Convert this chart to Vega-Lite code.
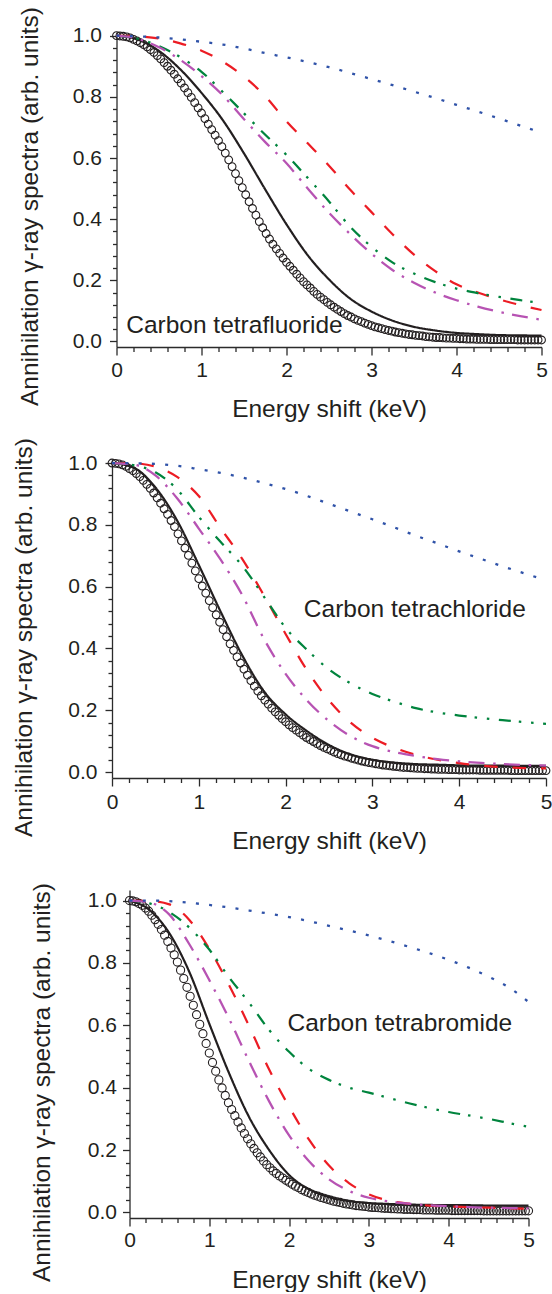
{
  "$schema": "https://vega.github.io/schema/vega-lite/v6.json",
  "padding": {"left": 10, "top": 6, "right": 0, "bottom": 0},
  "config": {
    "view": {"stroke": null},
    "font": "Liberation Sans",
    "axis": {
      "grid": false,
      "domainColor": "#2b2b2b",
      "domainWidth": 1.3,
      "tickColor": "#2b2b2b",
      "tickWidth": 1.3,
      "labelFont": "Liberation Sans",
      "labelFontSize": 21,
      "labelColor": "#231f20",
      "labelOverlap": false,
      "labelFlush": false,
      "labelBound": false,
      "titleFont": "Liberation Sans",
      "titleFontSize": 24.5,
      "titleFontWeight": "normal",
      "titleColor": "#231f20"
    }
  },
  "datasets": {
    "labels": [
      {"panel": "CF4", "text": "Carbon tetrafluoride", "x": 0.114, "y": 0.029},
      {"panel": "CCl4", "text": "Carbon tetrachloride", "x": 2.21, "y": 0.501},
      {"panel": "CBr4", "text": "Carbon tetrabromide", "x": 1.98, "y": 0.581}
    ],
    "lines": [
      {"panel":"CF4","curve":"black","x":0,"y":1.0},{"panel":"CF4","curve":"black","x":0.25,"y":0.987},{"panel":"CF4","curve":"black","x":0.5,"y":0.950},{"panel":"CF4","curve":"black","x":0.75,"y":0.890},{"panel":"CF4","curve":"black","x":1.0,"y":0.813},{"panel":"CF4","curve":"black","x":1.25,"y":0.724},{"panel":"CF4","curve":"black","x":1.5,"y":0.615},{"panel":"CF4","curve":"black","x":1.75,"y":0.497},{"panel":"CF4","curve":"black","x":2.0,"y":0.383},{"panel":"CF4","curve":"black","x":2.25,"y":0.282},{"panel":"CF4","curve":"black","x":2.5,"y":0.203},{"panel":"CF4","curve":"black","x":2.75,"y":0.140},{"panel":"CF4","curve":"black","x":3.0,"y":0.098},{"panel":"CF4","curve":"black","x":3.25,"y":0.068},{"panel":"CF4","curve":"black","x":3.5,"y":0.048},{"panel":"CF4","curve":"black","x":3.75,"y":0.036},{"panel":"CF4","curve":"black","x":4.0,"y":0.028},{"panel":"CF4","curve":"black","x":4.25,"y":0.024},{"panel":"CF4","curve":"black","x":4.5,"y":0.021},{"panel":"CF4","curve":"black","x":4.75,"y":0.020},{"panel":"CF4","curve":"black","x":5.0,"y":0.019},
      {"panel":"CF4","curve":"red","x":0,"y":1.0},{"panel":"CF4","curve":"red","x":0.25,"y":0.998},{"panel":"CF4","curve":"red","x":0.5,"y":0.991},{"panel":"CF4","curve":"red","x":0.75,"y":0.975},{"panel":"CF4","curve":"red","x":1.0,"y":0.951},{"panel":"CF4","curve":"red","x":1.25,"y":0.915},{"panel":"CF4","curve":"red","x":1.5,"y":0.866},{"panel":"CF4","curve":"red","x":1.75,"y":0.802},{"panel":"CF4","curve":"red","x":2.0,"y":0.720},{"panel":"CF4","curve":"red","x":2.25,"y":0.648},{"panel":"CF4","curve":"red","x":2.5,"y":0.575},{"panel":"CF4","curve":"red","x":2.75,"y":0.496},{"panel":"CF4","curve":"red","x":3.0,"y":0.423},{"panel":"CF4","curve":"red","x":3.25,"y":0.350},{"panel":"CF4","curve":"red","x":3.5,"y":0.284},{"panel":"CF4","curve":"red","x":3.75,"y":0.230},{"panel":"CF4","curve":"red","x":4.0,"y":0.187},{"panel":"CF4","curve":"red","x":4.25,"y":0.160},{"panel":"CF4","curve":"red","x":4.5,"y":0.138},{"panel":"CF4","curve":"red","x":4.75,"y":0.119},{"panel":"CF4","curve":"red","x":5.0,"y":0.103},
      {"panel":"CF4","curve":"green","x":0,"y":1.0},{"panel":"CF4","curve":"green","x":0.25,"y":0.990},{"panel":"CF4","curve":"green","x":0.5,"y":0.966},{"panel":"CF4","curve":"green","x":0.75,"y":0.930},{"panel":"CF4","curve":"green","x":1.0,"y":0.882},{"panel":"CF4","curve":"green","x":1.25,"y":0.816},{"panel":"CF4","curve":"green","x":1.5,"y":0.746},{"panel":"CF4","curve":"green","x":1.75,"y":0.676},{"panel":"CF4","curve":"green","x":2.0,"y":0.610},{"panel":"CF4","curve":"green","x":2.25,"y":0.535},{"panel":"CF4","curve":"green","x":2.5,"y":0.458},{"panel":"CF4","curve":"green","x":2.75,"y":0.375},{"panel":"CF4","curve":"green","x":3.0,"y":0.310},{"panel":"CF4","curve":"green","x":3.25,"y":0.258},{"panel":"CF4","curve":"green","x":3.5,"y":0.222},{"panel":"CF4","curve":"green","x":3.75,"y":0.194},{"panel":"CF4","curve":"green","x":4.0,"y":0.173},{"panel":"CF4","curve":"green","x":4.25,"y":0.158},{"panel":"CF4","curve":"green","x":4.5,"y":0.146},{"panel":"CF4","curve":"green","x":4.75,"y":0.135},{"panel":"CF4","curve":"green","x":5.0,"y":0.126},
      {"panel":"CF4","curve":"magenta","x":0,"y":1.0},{"panel":"CF4","curve":"magenta","x":0.25,"y":0.990},{"panel":"CF4","curve":"magenta","x":0.5,"y":0.962},{"panel":"CF4","curve":"magenta","x":0.75,"y":0.921},{"panel":"CF4","curve":"magenta","x":1.0,"y":0.868},{"panel":"CF4","curve":"magenta","x":1.25,"y":0.805},{"panel":"CF4","curve":"magenta","x":1.5,"y":0.727},{"panel":"CF4","curve":"magenta","x":1.75,"y":0.652},{"panel":"CF4","curve":"magenta","x":2.0,"y":0.583},{"panel":"CF4","curve":"magenta","x":2.25,"y":0.500},{"panel":"CF4","curve":"magenta","x":2.5,"y":0.421},{"panel":"CF4","curve":"magenta","x":2.75,"y":0.351},{"panel":"CF4","curve":"magenta","x":3.0,"y":0.287},{"panel":"CF4","curve":"magenta","x":3.25,"y":0.233},{"panel":"CF4","curve":"magenta","x":3.5,"y":0.192},{"panel":"CF4","curve":"magenta","x":3.75,"y":0.160},{"panel":"CF4","curve":"magenta","x":4.0,"y":0.135},{"panel":"CF4","curve":"magenta","x":4.25,"y":0.114},{"panel":"CF4","curve":"magenta","x":4.5,"y":0.097},{"panel":"CF4","curve":"magenta","x":4.75,"y":0.083},{"panel":"CF4","curve":"magenta","x":5.0,"y":0.071},
      {"panel":"CF4","curve":"blue","x":0,"y":1.0},{"panel":"CF4","curve":"blue","x":0.25,"y":0.998},{"panel":"CF4","curve":"blue","x":0.5,"y":0.994},{"panel":"CF4","curve":"blue","x":0.75,"y":0.988},{"panel":"CF4","curve":"blue","x":1.0,"y":0.980},{"panel":"CF4","curve":"blue","x":1.25,"y":0.971},{"panel":"CF4","curve":"blue","x":1.5,"y":0.958},{"panel":"CF4","curve":"blue","x":1.75,"y":0.943},{"panel":"CF4","curve":"blue","x":2.0,"y":0.929},{"panel":"CF4","curve":"blue","x":2.25,"y":0.914},{"panel":"CF4","curve":"blue","x":2.5,"y":0.897},{"panel":"CF4","curve":"blue","x":2.75,"y":0.878},{"panel":"CF4","curve":"blue","x":3.0,"y":0.858},{"panel":"CF4","curve":"blue","x":3.25,"y":0.838},{"panel":"CF4","curve":"blue","x":3.5,"y":0.817},{"panel":"CF4","curve":"blue","x":3.75,"y":0.796},{"panel":"CF4","curve":"blue","x":4.0,"y":0.774},{"panel":"CF4","curve":"blue","x":4.25,"y":0.752},{"panel":"CF4","curve":"blue","x":4.5,"y":0.729},{"panel":"CF4","curve":"blue","x":4.75,"y":0.706},{"panel":"CF4","curve":"blue","x":5.0,"y":0.683},
      {"panel":"CCl4","curve":"black","x":0,"y":1.0},{"panel":"CCl4","curve":"black","x":0.25,"y":0.985},{"panel":"CCl4","curve":"black","x":0.5,"y":0.921},{"panel":"CCl4","curve":"black","x":0.75,"y":0.814},{"panel":"CCl4","curve":"black","x":1.0,"y":0.670},{"panel":"CCl4","curve":"black","x":1.25,"y":0.520},{"panel":"CCl4","curve":"black","x":1.5,"y":0.378},{"panel":"CCl4","curve":"black","x":1.75,"y":0.262},{"panel":"CCl4","curve":"black","x":2.0,"y":0.187},{"panel":"CCl4","curve":"black","x":2.25,"y":0.132},{"panel":"CCl4","curve":"black","x":2.5,"y":0.088},{"panel":"CCl4","curve":"black","x":2.75,"y":0.057},{"panel":"CCl4","curve":"black","x":3.0,"y":0.040},{"panel":"CCl4","curve":"black","x":3.25,"y":0.031},{"panel":"CCl4","curve":"black","x":3.5,"y":0.026},{"panel":"CCl4","curve":"black","x":3.75,"y":0.024},{"panel":"CCl4","curve":"black","x":4.0,"y":0.022},{"panel":"CCl4","curve":"black","x":4.25,"y":0.021},{"panel":"CCl4","curve":"black","x":4.5,"y":0.021},{"panel":"CCl4","curve":"black","x":4.75,"y":0.020},{"panel":"CCl4","curve":"black","x":5.0,"y":0.020},
      {"panel":"CCl4","curve":"red","x":0,"y":1.0},{"panel":"CCl4","curve":"red","x":0.25,"y":0.999},{"panel":"CCl4","curve":"red","x":0.5,"y":0.988},{"panel":"CCl4","curve":"red","x":0.75,"y":0.955},{"panel":"CCl4","curve":"red","x":1.0,"y":0.893},{"panel":"CCl4","curve":"red","x":1.25,"y":0.790},{"panel":"CCl4","curve":"red","x":1.5,"y":0.690},{"panel":"CCl4","curve":"red","x":1.75,"y":0.572},{"panel":"CCl4","curve":"red","x":2.0,"y":0.447},{"panel":"CCl4","curve":"red","x":2.25,"y":0.328},{"panel":"CCl4","curve":"red","x":2.5,"y":0.232},{"panel":"CCl4","curve":"red","x":2.75,"y":0.160},{"panel":"CCl4","curve":"red","x":3.0,"y":0.111},{"panel":"CCl4","curve":"red","x":3.25,"y":0.079},{"panel":"CCl4","curve":"red","x":3.5,"y":0.056},{"panel":"CCl4","curve":"red","x":3.75,"y":0.040},{"panel":"CCl4","curve":"red","x":4.0,"y":0.029},{"panel":"CCl4","curve":"red","x":4.25,"y":0.021},{"panel":"CCl4","curve":"red","x":4.5,"y":0.016},{"panel":"CCl4","curve":"red","x":4.75,"y":0.013},{"panel":"CCl4","curve":"red","x":5.0,"y":0.012},
      {"panel":"CCl4","curve":"green","x":0,"y":1.0},{"panel":"CCl4","curve":"green","x":0.25,"y":0.993},{"panel":"CCl4","curve":"green","x":0.5,"y":0.970},{"panel":"CCl4","curve":"green","x":0.75,"y":0.915},{"panel":"CCl4","curve":"green","x":1.0,"y":0.826},{"panel":"CCl4","curve":"green","x":1.25,"y":0.745},{"panel":"CCl4","curve":"green","x":1.5,"y":0.668},{"panel":"CCl4","curve":"green","x":1.75,"y":0.568},{"panel":"CCl4","curve":"green","x":2.0,"y":0.467},{"panel":"CCl4","curve":"green","x":2.25,"y":0.395},{"panel":"CCl4","curve":"green","x":2.5,"y":0.332},{"panel":"CCl4","curve":"green","x":2.75,"y":0.287},{"panel":"CCl4","curve":"green","x":3.0,"y":0.253},{"panel":"CCl4","curve":"green","x":3.25,"y":0.228},{"panel":"CCl4","curve":"green","x":3.5,"y":0.207},{"panel":"CCl4","curve":"green","x":3.75,"y":0.193},{"panel":"CCl4","curve":"green","x":4.0,"y":0.183},{"panel":"CCl4","curve":"green","x":4.25,"y":0.175},{"panel":"CCl4","curve":"green","x":4.5,"y":0.168},{"panel":"CCl4","curve":"green","x":4.75,"y":0.162},{"panel":"CCl4","curve":"green","x":5.0,"y":0.156},
      {"panel":"CCl4","curve":"magenta","x":0,"y":1.0},{"panel":"CCl4","curve":"magenta","x":0.25,"y":0.995},{"panel":"CCl4","curve":"magenta","x":0.5,"y":0.960},{"panel":"CCl4","curve":"magenta","x":0.75,"y":0.886},{"panel":"CCl4","curve":"magenta","x":1.0,"y":0.788},{"panel":"CCl4","curve":"magenta","x":1.25,"y":0.688},{"panel":"CCl4","curve":"magenta","x":1.5,"y":0.573},{"panel":"CCl4","curve":"magenta","x":1.75,"y":0.431},{"panel":"CCl4","curve":"magenta","x":2.0,"y":0.318},{"panel":"CCl4","curve":"magenta","x":2.25,"y":0.231},{"panel":"CCl4","curve":"magenta","x":2.5,"y":0.165},{"panel":"CCl4","curve":"magenta","x":2.75,"y":0.116},{"panel":"CCl4","curve":"magenta","x":3.0,"y":0.084},{"panel":"CCl4","curve":"magenta","x":3.25,"y":0.065},{"panel":"CCl4","curve":"magenta","x":3.5,"y":0.052},{"panel":"CCl4","curve":"magenta","x":3.75,"y":0.042},{"panel":"CCl4","curve":"magenta","x":4.0,"y":0.035},{"panel":"CCl4","curve":"magenta","x":4.25,"y":0.030},{"panel":"CCl4","curve":"magenta","x":4.5,"y":0.026},{"panel":"CCl4","curve":"magenta","x":4.75,"y":0.023},{"panel":"CCl4","curve":"magenta","x":5.0,"y":0.021},
      {"panel":"CCl4","curve":"blue","x":0,"y":1.0},{"panel":"CCl4","curve":"blue","x":0.25,"y":0.999},{"panel":"CCl4","curve":"blue","x":0.5,"y":0.997},{"panel":"CCl4","curve":"blue","x":0.75,"y":0.991},{"panel":"CCl4","curve":"blue","x":1.0,"y":0.980},{"panel":"CCl4","curve":"blue","x":1.25,"y":0.968},{"panel":"CCl4","curve":"blue","x":1.5,"y":0.953},{"panel":"CCl4","curve":"blue","x":1.75,"y":0.935},{"panel":"CCl4","curve":"blue","x":2.0,"y":0.916},{"panel":"CCl4","curve":"blue","x":2.25,"y":0.893},{"panel":"CCl4","curve":"blue","x":2.5,"y":0.868},{"panel":"CCl4","curve":"blue","x":2.75,"y":0.843},{"panel":"CCl4","curve":"blue","x":3.0,"y":0.818},{"panel":"CCl4","curve":"blue","x":3.25,"y":0.792},{"panel":"CCl4","curve":"blue","x":3.5,"y":0.765},{"panel":"CCl4","curve":"blue","x":3.75,"y":0.740},{"panel":"CCl4","curve":"blue","x":4.0,"y":0.714},{"panel":"CCl4","curve":"blue","x":4.25,"y":0.690},{"panel":"CCl4","curve":"blue","x":4.5,"y":0.666},{"panel":"CCl4","curve":"blue","x":4.75,"y":0.643},{"panel":"CCl4","curve":"blue","x":5.0,"y":0.621},
      {"panel":"CBr4","curve":"black","x":0,"y":1.0},{"panel":"CBr4","curve":"black","x":0.25,"y":0.970},{"panel":"CBr4","curve":"black","x":0.5,"y":0.895},{"panel":"CBr4","curve":"black","x":0.75,"y":0.771},{"panel":"CBr4","curve":"black","x":1.0,"y":0.605},{"panel":"CBr4","curve":"black","x":1.25,"y":0.445},{"panel":"CBr4","curve":"black","x":1.5,"y":0.305},{"panel":"CBr4","curve":"black","x":1.75,"y":0.200},{"panel":"CBr4","curve":"black","x":2.0,"y":0.120},{"panel":"CBr4","curve":"black","x":2.25,"y":0.074},{"panel":"CBr4","curve":"black","x":2.5,"y":0.049},{"panel":"CBr4","curve":"black","x":2.75,"y":0.036},{"panel":"CBr4","curve":"black","x":3.0,"y":0.030},{"panel":"CBr4","curve":"black","x":3.25,"y":0.027},{"panel":"CBr4","curve":"black","x":3.5,"y":0.025},{"panel":"CBr4","curve":"black","x":3.75,"y":0.024},{"panel":"CBr4","curve":"black","x":4.0,"y":0.023},{"panel":"CBr4","curve":"black","x":4.25,"y":0.023},{"panel":"CBr4","curve":"black","x":4.5,"y":0.022},{"panel":"CBr4","curve":"black","x":4.75,"y":0.022},{"panel":"CBr4","curve":"black","x":5.0,"y":0.022},
      {"panel":"CBr4","curve":"red","x":0,"y":1.0},{"panel":"CBr4","curve":"red","x":0.25,"y":0.999},{"panel":"CBr4","curve":"red","x":0.5,"y":0.988},{"panel":"CBr4","curve":"red","x":0.75,"y":0.938},{"panel":"CBr4","curve":"red","x":1.0,"y":0.845},{"panel":"CBr4","curve":"red","x":1.25,"y":0.728},{"panel":"CBr4","curve":"red","x":1.5,"y":0.597},{"panel":"CBr4","curve":"red","x":1.75,"y":0.458},{"panel":"CBr4","curve":"red","x":2.0,"y":0.339},{"panel":"CBr4","curve":"red","x":2.25,"y":0.233},{"panel":"CBr4","curve":"red","x":2.5,"y":0.150},{"panel":"CBr4","curve":"red","x":2.75,"y":0.094},{"panel":"CBr4","curve":"red","x":3.0,"y":0.058},{"panel":"CBr4","curve":"red","x":3.25,"y":0.038},{"panel":"CBr4","curve":"red","x":3.5,"y":0.028},{"panel":"CBr4","curve":"red","x":3.75,"y":0.022},{"panel":"CBr4","curve":"red","x":4.0,"y":0.019},{"panel":"CBr4","curve":"red","x":4.25,"y":0.017},{"panel":"CBr4","curve":"red","x":4.5,"y":0.015},{"panel":"CBr4","curve":"red","x":4.75,"y":0.013},{"panel":"CBr4","curve":"red","x":5.0,"y":0.012},
      {"panel":"CBr4","curve":"green","x":0,"y":1.0},{"panel":"CBr4","curve":"green","x":0.25,"y":0.991},{"panel":"CBr4","curve":"green","x":0.5,"y":0.963},{"panel":"CBr4","curve":"green","x":0.75,"y":0.913},{"panel":"CBr4","curve":"green","x":1.0,"y":0.843},{"panel":"CBr4","curve":"green","x":1.25,"y":0.753},{"panel":"CBr4","curve":"green","x":1.5,"y":0.672},{"panel":"CBr4","curve":"green","x":1.75,"y":0.585},{"panel":"CBr4","curve":"green","x":2.0,"y":0.515},{"panel":"CBr4","curve":"green","x":2.25,"y":0.460},{"panel":"CBr4","curve":"green","x":2.5,"y":0.425},{"panel":"CBr4","curve":"green","x":2.75,"y":0.400},{"panel":"CBr4","curve":"green","x":3.0,"y":0.384},{"panel":"CBr4","curve":"green","x":3.25,"y":0.367},{"panel":"CBr4","curve":"green","x":3.5,"y":0.350},{"panel":"CBr4","curve":"green","x":3.75,"y":0.335},{"panel":"CBr4","curve":"green","x":4.0,"y":0.322},{"panel":"CBr4","curve":"green","x":4.25,"y":0.311},{"panel":"CBr4","curve":"green","x":4.5,"y":0.300},{"panel":"CBr4","curve":"green","x":4.75,"y":0.287},{"panel":"CBr4","curve":"green","x":5.0,"y":0.274},
      {"panel":"CBr4","curve":"magenta","x":0,"y":1.0},{"panel":"CBr4","curve":"magenta","x":0.25,"y":0.994},{"panel":"CBr4","curve":"magenta","x":0.5,"y":0.955},{"panel":"CBr4","curve":"magenta","x":0.75,"y":0.860},{"panel":"CBr4","curve":"magenta","x":1.0,"y":0.745},{"panel":"CBr4","curve":"magenta","x":1.25,"y":0.620},{"panel":"CBr4","curve":"magenta","x":1.5,"y":0.484},{"panel":"CBr4","curve":"magenta","x":1.75,"y":0.356},{"panel":"CBr4","curve":"magenta","x":2.0,"y":0.247},{"panel":"CBr4","curve":"magenta","x":2.25,"y":0.164},{"panel":"CBr4","curve":"magenta","x":2.5,"y":0.106},{"panel":"CBr4","curve":"magenta","x":2.75,"y":0.069},{"panel":"CBr4","curve":"magenta","x":3.0,"y":0.047},{"panel":"CBr4","curve":"magenta","x":3.25,"y":0.035},{"panel":"CBr4","curve":"magenta","x":3.5,"y":0.028},{"panel":"CBr4","curve":"magenta","x":3.75,"y":0.023},{"panel":"CBr4","curve":"magenta","x":4.0,"y":0.020},{"panel":"CBr4","curve":"magenta","x":4.25,"y":0.017},{"panel":"CBr4","curve":"magenta","x":4.5,"y":0.015},{"panel":"CBr4","curve":"magenta","x":4.75,"y":0.014},{"panel":"CBr4","curve":"magenta","x":5.0,"y":0.013},
      {"panel":"CBr4","curve":"blue","x":0,"y":1.0},{"panel":"CBr4","curve":"blue","x":0.25,"y":1.0},{"panel":"CBr4","curve":"blue","x":0.5,"y":0.998},{"panel":"CBr4","curve":"blue","x":0.75,"y":0.993},{"panel":"CBr4","curve":"blue","x":1.0,"y":0.986},{"panel":"CBr4","curve":"blue","x":1.25,"y":0.978},{"panel":"CBr4","curve":"blue","x":1.5,"y":0.968},{"panel":"CBr4","curve":"blue","x":1.75,"y":0.958},{"panel":"CBr4","curve":"blue","x":2.0,"y":0.947},{"panel":"CBr4","curve":"blue","x":2.25,"y":0.934},{"panel":"CBr4","curve":"blue","x":2.5,"y":0.919},{"panel":"CBr4","curve":"blue","x":2.75,"y":0.904},{"panel":"CBr4","curve":"blue","x":3.0,"y":0.888},{"panel":"CBr4","curve":"blue","x":3.25,"y":0.871},{"panel":"CBr4","curve":"blue","x":3.5,"y":0.852},{"panel":"CBr4","curve":"blue","x":3.75,"y":0.832},{"panel":"CBr4","curve":"blue","x":4.0,"y":0.810},{"panel":"CBr4","curve":"blue","x":4.25,"y":0.785},{"panel":"CBr4","curve":"blue","x":4.5,"y":0.756},{"panel":"CBr4","curve":"blue","x":4.75,"y":0.722},{"panel":"CBr4","curve":"blue","x":5.0,"y":0.675}
    ],
    "circles": [
      {"panel":"CF4","x":0,"y":1.0},{"panel":"CF4","x":0.04,"y":0.999},{"panel":"CF4","x":0.08,"y":0.998},{"panel":"CF4","x":0.12,"y":0.996},{"panel":"CF4","x":0.16,"y":0.993},{"panel":"CF4","x":0.2,"y":0.988},{"panel":"CF4","x":0.24,"y":0.983},{"panel":"CF4","x":0.28,"y":0.977},{"panel":"CF4","x":0.32,"y":0.971},{"panel":"CF4","x":0.36,"y":0.963},{"panel":"CF4","x":0.4,"y":0.954},{"panel":"CF4","x":0.44,"y":0.945},{"panel":"CF4","x":0.48,"y":0.935},{"panel":"CF4","x":0.52,"y":0.924},{"panel":"CF4","x":0.56,"y":0.912},{"panel":"CF4","x":0.6,"y":0.900},{"panel":"CF4","x":0.64,"y":0.887},{"panel":"CF4","x":0.68,"y":0.874},{"panel":"CF4","x":0.72,"y":0.859},{"panel":"CF4","x":0.76,"y":0.845},{"panel":"CF4","x":0.8,"y":0.829},{"panel":"CF4","x":0.84,"y":0.814},{"panel":"CF4","x":0.88,"y":0.798},{"panel":"CF4","x":0.92,"y":0.781},{"panel":"CF4","x":0.96,"y":0.764},{"panel":"CF4","x":1.0,"y":0.747},{"panel":"CF4","x":1.04,"y":0.729},{"panel":"CF4","x":1.08,"y":0.711},{"panel":"CF4","x":1.12,"y":0.693},{"panel":"CF4","x":1.16,"y":0.675},{"panel":"CF4","x":1.2,"y":0.657},{"panel":"CF4","x":1.24,"y":0.637},{"panel":"CF4","x":1.28,"y":0.616},{"panel":"CF4","x":1.32,"y":0.594},{"panel":"CF4","x":1.36,"y":0.572},{"panel":"CF4","x":1.4,"y":0.549},{"panel":"CF4","x":1.44,"y":0.526},{"panel":"CF4","x":1.48,"y":0.503},{"panel":"CF4","x":1.52,"y":0.480},{"panel":"CF4","x":1.56,"y":0.457},{"panel":"CF4","x":1.6,"y":0.435},{"panel":"CF4","x":1.64,"y":0.413},{"panel":"CF4","x":1.68,"y":0.392},{"panel":"CF4","x":1.72,"y":0.372},{"panel":"CF4","x":1.76,"y":0.353},{"panel":"CF4","x":1.8,"y":0.335},{"panel":"CF4","x":1.84,"y":0.318},{"panel":"CF4","x":1.88,"y":0.303},{"panel":"CF4","x":1.92,"y":0.288},{"panel":"CF4","x":1.96,"y":0.273},{"panel":"CF4","x":2.0,"y":0.259},{"panel":"CF4","x":2.04,"y":0.246},{"panel":"CF4","x":2.08,"y":0.233},{"panel":"CF4","x":2.12,"y":0.220},{"panel":"CF4","x":2.16,"y":0.208},{"panel":"CF4","x":2.2,"y":0.196},{"panel":"CF4","x":2.24,"y":0.185},{"panel":"CF4","x":2.28,"y":0.175},{"panel":"CF4","x":2.32,"y":0.164},{"panel":"CF4","x":2.36,"y":0.154},{"panel":"CF4","x":2.4,"y":0.145},{"panel":"CF4","x":2.44,"y":0.137},{"panel":"CF4","x":2.48,"y":0.128},{"panel":"CF4","x":2.52,"y":0.120},{"panel":"CF4","x":2.56,"y":0.112},{"panel":"CF4","x":2.6,"y":0.105},{"panel":"CF4","x":2.64,"y":0.098},{"panel":"CF4","x":2.68,"y":0.091},{"panel":"CF4","x":2.72,"y":0.085},{"panel":"CF4","x":2.76,"y":0.080},{"panel":"CF4","x":2.8,"y":0.074},{"panel":"CF4","x":2.84,"y":0.069},{"panel":"CF4","x":2.88,"y":0.065},{"panel":"CF4","x":2.92,"y":0.060},{"panel":"CF4","x":2.96,"y":0.056},{"panel":"CF4","x":3.0,"y":0.052},{"panel":"CF4","x":3.04,"y":0.048},{"panel":"CF4","x":3.08,"y":0.045},{"panel":"CF4","x":3.12,"y":0.042},{"panel":"CF4","x":3.16,"y":0.039},{"panel":"CF4","x":3.2,"y":0.036},{"panel":"CF4","x":3.24,"y":0.034},{"panel":"CF4","x":3.28,"y":0.031},{"panel":"CF4","x":3.32,"y":0.029},{"panel":"CF4","x":3.36,"y":0.027},{"panel":"CF4","x":3.4,"y":0.025},{"panel":"CF4","x":3.44,"y":0.023},{"panel":"CF4","x":3.48,"y":0.022},{"panel":"CF4","x":3.52,"y":0.020},{"panel":"CF4","x":3.56,"y":0.019},{"panel":"CF4","x":3.6,"y":0.018},{"panel":"CF4","x":3.64,"y":0.016},{"panel":"CF4","x":3.68,"y":0.015},{"panel":"CF4","x":3.72,"y":0.014},{"panel":"CF4","x":3.76,"y":0.013},{"panel":"CF4","x":3.8,"y":0.013},{"panel":"CF4","x":3.84,"y":0.012},{"panel":"CF4","x":3.88,"y":0.011},{"panel":"CF4","x":3.92,"y":0.011},{"panel":"CF4","x":3.96,"y":0.010},{"panel":"CF4","x":4.0,"y":0.010},{"panel":"CF4","x":4.04,"y":0.009},{"panel":"CF4","x":4.08,"y":0.009},{"panel":"CF4","x":4.12,"y":0.008},{"panel":"CF4","x":4.16,"y":0.008},{"panel":"CF4","x":4.2,"y":0.008},{"panel":"CF4","x":4.24,"y":0.007},{"panel":"CF4","x":4.28,"y":0.007},{"panel":"CF4","x":4.32,"y":0.007},{"panel":"CF4","x":4.36,"y":0.007},{"panel":"CF4","x":4.4,"y":0.006},{"panel":"CF4","x":4.44,"y":0.006},{"panel":"CF4","x":4.48,"y":0.006},{"panel":"CF4","x":4.52,"y":0.006},{"panel":"CF4","x":4.56,"y":0.006},{"panel":"CF4","x":4.6,"y":0.006},{"panel":"CF4","x":4.64,"y":0.006},{"panel":"CF4","x":4.68,"y":0.006},{"panel":"CF4","x":4.72,"y":0.005},{"panel":"CF4","x":4.76,"y":0.005},{"panel":"CF4","x":4.8,"y":0.005},{"panel":"CF4","x":4.84,"y":0.005},{"panel":"CF4","x":4.88,"y":0.005},{"panel":"CF4","x":4.92,"y":0.005},{"panel":"CF4","x":4.96,"y":0.005},{"panel":"CF4","x":5.0,"y":0.005},
      {"panel":"CCl4","x":0,"y":1.0},{"panel":"CCl4","x":0.04,"y":0.999},{"panel":"CCl4","x":0.08,"y":0.997},{"panel":"CCl4","x":0.12,"y":0.994},{"panel":"CCl4","x":0.16,"y":0.989},{"panel":"CCl4","x":0.2,"y":0.982},{"panel":"CCl4","x":0.24,"y":0.975},{"panel":"CCl4","x":0.28,"y":0.966},{"panel":"CCl4","x":0.32,"y":0.956},{"panel":"CCl4","x":0.36,"y":0.944},{"panel":"CCl4","x":0.4,"y":0.931},{"panel":"CCl4","x":0.44,"y":0.918},{"panel":"CCl4","x":0.48,"y":0.903},{"panel":"CCl4","x":0.52,"y":0.887},{"panel":"CCl4","x":0.56,"y":0.870},{"panel":"CCl4","x":0.6,"y":0.852},{"panel":"CCl4","x":0.64,"y":0.834},{"panel":"CCl4","x":0.68,"y":0.814},{"panel":"CCl4","x":0.72,"y":0.794},{"panel":"CCl4","x":0.76,"y":0.771},{"panel":"CCl4","x":0.8,"y":0.748},{"panel":"CCl4","x":0.84,"y":0.725},{"panel":"CCl4","x":0.88,"y":0.701},{"panel":"CCl4","x":0.92,"y":0.676},{"panel":"CCl4","x":0.96,"y":0.651},{"panel":"CCl4","x":1.0,"y":0.626},{"panel":"CCl4","x":1.04,"y":0.602},{"panel":"CCl4","x":1.08,"y":0.579},{"panel":"CCl4","x":1.12,"y":0.555},{"panel":"CCl4","x":1.16,"y":0.532},{"panel":"CCl4","x":1.2,"y":0.509},{"panel":"CCl4","x":1.24,"y":0.485},{"panel":"CCl4","x":1.28,"y":0.461},{"panel":"CCl4","x":1.32,"y":0.438},{"panel":"CCl4","x":1.36,"y":0.415},{"panel":"CCl4","x":1.4,"y":0.394},{"panel":"CCl4","x":1.44,"y":0.373},{"panel":"CCl4","x":1.48,"y":0.353},{"panel":"CCl4","x":1.52,"y":0.333},{"panel":"CCl4","x":1.56,"y":0.314},{"panel":"CCl4","x":1.6,"y":0.296},{"panel":"CCl4","x":1.64,"y":0.278},{"panel":"CCl4","x":1.68,"y":0.262},{"panel":"CCl4","x":1.72,"y":0.247},{"panel":"CCl4","x":1.76,"y":0.233},{"panel":"CCl4","x":1.8,"y":0.220},{"panel":"CCl4","x":1.84,"y":0.207},{"panel":"CCl4","x":1.88,"y":0.195},{"panel":"CCl4","x":1.92,"y":0.184},{"panel":"CCl4","x":1.96,"y":0.173},{"panel":"CCl4","x":2.0,"y":0.163},{"panel":"CCl4","x":2.04,"y":0.153},{"panel":"CCl4","x":2.08,"y":0.144},{"panel":"CCl4","x":2.12,"y":0.136},{"panel":"CCl4","x":2.16,"y":0.128},{"panel":"CCl4","x":2.2,"y":0.120},{"panel":"CCl4","x":2.24,"y":0.112},{"panel":"CCl4","x":2.28,"y":0.105},{"panel":"CCl4","x":2.32,"y":0.099},{"panel":"CCl4","x":2.36,"y":0.092},{"panel":"CCl4","x":2.4,"y":0.086},{"panel":"CCl4","x":2.44,"y":0.080},{"panel":"CCl4","x":2.48,"y":0.075},{"panel":"CCl4","x":2.52,"y":0.070},{"panel":"CCl4","x":2.56,"y":0.065},{"panel":"CCl4","x":2.6,"y":0.060},{"panel":"CCl4","x":2.64,"y":0.056},{"panel":"CCl4","x":2.68,"y":0.052},{"panel":"CCl4","x":2.72,"y":0.049},{"panel":"CCl4","x":2.76,"y":0.045},{"panel":"CCl4","x":2.8,"y":0.042},{"panel":"CCl4","x":2.84,"y":0.039},{"panel":"CCl4","x":2.88,"y":0.036},{"panel":"CCl4","x":2.92,"y":0.033},{"panel":"CCl4","x":2.96,"y":0.031},{"panel":"CCl4","x":3.0,"y":0.029},{"panel":"CCl4","x":3.04,"y":0.027},{"panel":"CCl4","x":3.08,"y":0.025},{"panel":"CCl4","x":3.12,"y":0.023},{"panel":"CCl4","x":3.16,"y":0.022},{"panel":"CCl4","x":3.2,"y":0.020},{"panel":"CCl4","x":3.24,"y":0.019},{"panel":"CCl4","x":3.28,"y":0.018},{"panel":"CCl4","x":3.32,"y":0.016},{"panel":"CCl4","x":3.36,"y":0.015},{"panel":"CCl4","x":3.4,"y":0.015},{"panel":"CCl4","x":3.44,"y":0.014},{"panel":"CCl4","x":3.48,"y":0.013},{"panel":"CCl4","x":3.52,"y":0.012},{"panel":"CCl4","x":3.56,"y":0.012},{"panel":"CCl4","x":3.6,"y":0.011},{"panel":"CCl4","x":3.64,"y":0.011},{"panel":"CCl4","x":3.68,"y":0.010},{"panel":"CCl4","x":3.72,"y":0.010},{"panel":"CCl4","x":3.76,"y":0.009},{"panel":"CCl4","x":3.8,"y":0.009},{"panel":"CCl4","x":3.84,"y":0.009},{"panel":"CCl4","x":3.88,"y":0.008},{"panel":"CCl4","x":3.92,"y":0.008},{"panel":"CCl4","x":3.96,"y":0.008},{"panel":"CCl4","x":4.0,"y":0.007},{"panel":"CCl4","x":4.04,"y":0.007},{"panel":"CCl4","x":4.08,"y":0.007},{"panel":"CCl4","x":4.12,"y":0.007},{"panel":"CCl4","x":4.16,"y":0.007},{"panel":"CCl4","x":4.2,"y":0.007},{"panel":"CCl4","x":4.24,"y":0.006},{"panel":"CCl4","x":4.28,"y":0.006},{"panel":"CCl4","x":4.32,"y":0.006},{"panel":"CCl4","x":4.36,"y":0.006},{"panel":"CCl4","x":4.4,"y":0.006},{"panel":"CCl4","x":4.44,"y":0.006},{"panel":"CCl4","x":4.48,"y":0.006},{"panel":"CCl4","x":4.52,"y":0.006},{"panel":"CCl4","x":4.56,"y":0.006},{"panel":"CCl4","x":4.6,"y":0.005},{"panel":"CCl4","x":4.64,"y":0.005},{"panel":"CCl4","x":4.68,"y":0.005},{"panel":"CCl4","x":4.72,"y":0.005},{"panel":"CCl4","x":4.76,"y":0.005},{"panel":"CCl4","x":4.8,"y":0.005},{"panel":"CCl4","x":4.84,"y":0.005},{"panel":"CCl4","x":4.88,"y":0.005},{"panel":"CCl4","x":4.92,"y":0.005},{"panel":"CCl4","x":4.96,"y":0.005},{"panel":"CCl4","x":5.0,"y":0.005},
      {"panel":"CBr4","x":0,"y":1.0},{"panel":"CBr4","x":0.04,"y":0.999},{"panel":"CBr4","x":0.08,"y":0.996},{"panel":"CBr4","x":0.12,"y":0.991},{"panel":"CBr4","x":0.16,"y":0.985},{"panel":"CBr4","x":0.2,"y":0.976},{"panel":"CBr4","x":0.24,"y":0.966},{"panel":"CBr4","x":0.28,"y":0.953},{"panel":"CBr4","x":0.32,"y":0.939},{"panel":"CBr4","x":0.36,"y":0.924},{"panel":"CBr4","x":0.4,"y":0.907},{"panel":"CBr4","x":0.44,"y":0.889},{"panel":"CBr4","x":0.48,"y":0.869},{"panel":"CBr4","x":0.52,"y":0.848},{"panel":"CBr4","x":0.56,"y":0.826},{"panel":"CBr4","x":0.6,"y":0.803},{"panel":"CBr4","x":0.64,"y":0.777},{"panel":"CBr4","x":0.68,"y":0.750},{"panel":"CBr4","x":0.72,"y":0.722},{"panel":"CBr4","x":0.76,"y":0.693},{"panel":"CBr4","x":0.8,"y":0.664},{"panel":"CBr4","x":0.84,"y":0.634},{"panel":"CBr4","x":0.88,"y":0.603},{"panel":"CBr4","x":0.92,"y":0.573},{"panel":"CBr4","x":0.96,"y":0.542},{"panel":"CBr4","x":1.0,"y":0.511},{"panel":"CBr4","x":1.04,"y":0.481},{"panel":"CBr4","x":1.08,"y":0.453},{"panel":"CBr4","x":1.12,"y":0.425},{"panel":"CBr4","x":1.16,"y":0.399},{"panel":"CBr4","x":1.2,"y":0.375},{"panel":"CBr4","x":1.24,"y":0.352},{"panel":"CBr4","x":1.28,"y":0.330},{"panel":"CBr4","x":1.32,"y":0.310},{"panel":"CBr4","x":1.36,"y":0.290},{"panel":"CBr4","x":1.4,"y":0.271},{"panel":"CBr4","x":1.44,"y":0.253},{"panel":"CBr4","x":1.48,"y":0.236},{"panel":"CBr4","x":1.52,"y":0.220},{"panel":"CBr4","x":1.56,"y":0.205},{"panel":"CBr4","x":1.6,"y":0.191},{"panel":"CBr4","x":1.64,"y":0.178},{"panel":"CBr4","x":1.68,"y":0.165},{"panel":"CBr4","x":1.72,"y":0.153},{"panel":"CBr4","x":1.76,"y":0.143},{"panel":"CBr4","x":1.8,"y":0.133},{"panel":"CBr4","x":1.84,"y":0.125},{"panel":"CBr4","x":1.88,"y":0.117},{"panel":"CBr4","x":1.92,"y":0.110},{"panel":"CBr4","x":1.96,"y":0.103},{"panel":"CBr4","x":2.0,"y":0.097},{"panel":"CBr4","x":2.04,"y":0.090},{"panel":"CBr4","x":2.08,"y":0.084},{"panel":"CBr4","x":2.12,"y":0.079},{"panel":"CBr4","x":2.16,"y":0.073},{"panel":"CBr4","x":2.2,"y":0.068},{"panel":"CBr4","x":2.24,"y":0.064},{"panel":"CBr4","x":2.28,"y":0.059},{"panel":"CBr4","x":2.32,"y":0.055},{"panel":"CBr4","x":2.36,"y":0.052},{"panel":"CBr4","x":2.4,"y":0.048},{"panel":"CBr4","x":2.44,"y":0.045},{"panel":"CBr4","x":2.48,"y":0.042},{"panel":"CBr4","x":2.52,"y":0.039},{"panel":"CBr4","x":2.56,"y":0.036},{"panel":"CBr4","x":2.6,"y":0.034},{"panel":"CBr4","x":2.64,"y":0.032},{"panel":"CBr4","x":2.68,"y":0.029},{"panel":"CBr4","x":2.72,"y":0.027},{"panel":"CBr4","x":2.76,"y":0.026},{"panel":"CBr4","x":2.8,"y":0.024},{"panel":"CBr4","x":2.84,"y":0.022},{"panel":"CBr4","x":2.88,"y":0.021},{"panel":"CBr4","x":2.92,"y":0.020},{"panel":"CBr4","x":2.96,"y":0.019},{"panel":"CBr4","x":3.0,"y":0.017},{"panel":"CBr4","x":3.04,"y":0.016},{"panel":"CBr4","x":3.08,"y":0.016},{"panel":"CBr4","x":3.12,"y":0.015},{"panel":"CBr4","x":3.16,"y":0.014},{"panel":"CBr4","x":3.2,"y":0.013},{"panel":"CBr4","x":3.24,"y":0.013},{"panel":"CBr4","x":3.28,"y":0.012},{"panel":"CBr4","x":3.32,"y":0.012},{"panel":"CBr4","x":3.36,"y":0.011},{"panel":"CBr4","x":3.4,"y":0.011},{"panel":"CBr4","x":3.44,"y":0.010},{"panel":"CBr4","x":3.48,"y":0.010},{"panel":"CBr4","x":3.52,"y":0.010},{"panel":"CBr4","x":3.56,"y":0.009},{"panel":"CBr4","x":3.6,"y":0.009},{"panel":"CBr4","x":3.64,"y":0.009},{"panel":"CBr4","x":3.68,"y":0.008},{"panel":"CBr4","x":3.72,"y":0.008},{"panel":"CBr4","x":3.76,"y":0.008},{"panel":"CBr4","x":3.8,"y":0.008},{"panel":"CBr4","x":3.84,"y":0.007},{"panel":"CBr4","x":3.88,"y":0.007},{"panel":"CBr4","x":3.92,"y":0.007},{"panel":"CBr4","x":3.96,"y":0.007},{"panel":"CBr4","x":4.0,"y":0.007},{"panel":"CBr4","x":4.04,"y":0.006},{"panel":"CBr4","x":4.08,"y":0.006},{"panel":"CBr4","x":4.12,"y":0.006},{"panel":"CBr4","x":4.16,"y":0.006},{"panel":"CBr4","x":4.2,"y":0.006},{"panel":"CBr4","x":4.24,"y":0.006},{"panel":"CBr4","x":4.28,"y":0.006},{"panel":"CBr4","x":4.32,"y":0.006},{"panel":"CBr4","x":4.36,"y":0.006},{"panel":"CBr4","x":4.4,"y":0.006},{"panel":"CBr4","x":4.44,"y":0.005},{"panel":"CBr4","x":4.48,"y":0.005},{"panel":"CBr4","x":4.52,"y":0.005},{"panel":"CBr4","x":4.56,"y":0.005},{"panel":"CBr4","x":4.6,"y":0.005},{"panel":"CBr4","x":4.64,"y":0.005},{"panel":"CBr4","x":4.68,"y":0.005},{"panel":"CBr4","x":4.72,"y":0.005},{"panel":"CBr4","x":4.76,"y":0.005},{"panel":"CBr4","x":4.8,"y":0.005},{"panel":"CBr4","x":4.84,"y":0.005},{"panel":"CBr4","x":4.88,"y":0.005},{"panel":"CBr4","x":4.92,"y":0.005},{"panel":"CBr4","x":4.96,"y":0.005},{"panel":"CBr4","x":5.0,"y":0.005}
    ]
  },
  "vconcat": [
    {
      "width": 425,
      "height": 315,
      "encoding": {
        "x": {"field": "x", "type": "quantitative", "scale": {"domain": [0, 5], "nice": false, "zero": false},
          "axis": {"title": "Energy shift (keV)", "values": [0,0.2,0.4,0.6,0.8,1,1.2,1.4,1.6,1.8,2,2.2,2.4,2.6,2.8,3,3.2,3.4,3.6,3.8,4,4.2,4.4,4.6,4.8,5],
            "labelExpr": "abs(datum.value - round(datum.value)) < 0.001 ? format(datum.value, 'd') : ''",
            "tickSize": {"condition": {"test": "abs(datum.value - round(datum.value)) < 0.001", "value": 8}, "value": 4.5},
            "labelBaseline": "alphabetic", "labelPadding": 21, "titleY": 69, "titleBaseline": "alphabetic"}},
        "y": {"field": "y", "type": "quantitative", "scale": {"domain": [-0.018, 1.012], "nice": false, "zero": false},
          "axis": {"title": "Annihilation γ-ray spectra (arb. units)", "values": [0,0.04,0.08,0.12,0.16,0.2,0.24,0.28,0.32,0.36,0.4,0.44,0.48,0.52,0.56,0.6,0.64,0.68,0.72,0.76,0.8,0.84,0.88,0.92,0.96,1],
            "labelExpr": "abs(datum.value * 5 - round(datum.value * 5)) < 0.001 ? format(datum.value, '.1f') : ''",
            "tickSize": {"condition": {"test": "abs(datum.value * 5 - round(datum.value * 5)) < 0.001", "value": 7}, "value": 4},
            "labelPadding": 8, "titleX": -79, "titleY": 174, "titleBaseline": "alphabetic", "titleAlign": "center"}}
      },
      "layer": [
        {"data": {"name": "circles"}, "transform": [{"filter": "datum.panel === 'CF4'"}],
          "mark": {"type": "point", "shape": "circle", "filled": false, "size": 60, "stroke": "#231f20", "strokeWidth": 1.1, "opacity": 1}},
        {"data": {"name": "lines"}, "transform": [{"filter": "datum.panel === 'CF4'"}],
          "mark": {"type": "line", "interpolate": "monotone", "strokeCap": "butt"},
          "encoding": {
            "color": {"field": "curve", "type": "nominal", "legend": null, "scale": {"domain": ["black", "red", "green", "magenta", "blue"], "range": ["#231f20", "#ec1c24", "#00843d", "#b753b3", "#2f52a8"]}},
            "strokeDash": {"field": "curve", "type": "nominal", "legend": null, "scale": {"domain": ["black", "red", "green", "magenta", "blue"], "range": [[1, 0], [13.5, 15], [12, 8, 2.5, 9.8, 2.5, 9.6], [16, 8.7, 2.5, 8.3], [3, 10.3]]}},
            "strokeWidth": {"field": "curve", "type": "ordinal", "legend": null, "scale": {"domain": ["black", "red", "green", "magenta", "blue"], "range": [2.2, 2.3, 2.3, 2.3, 2.8]}}
          }},
        {"data": {"name": "labels"}, "transform": [{"filter": "datum.panel === 'CF4'"}],
          "mark": {"type": "text", "align": "left", "baseline": "alphabetic", "font": "Liberation Sans", "fontSize": 24.5, "color": "#231f20"},
          "encoding": {"text": {"field": "text"}}}
      ]
    },
    {
      "width": 434,
      "height": 319,
      "encoding": {
        "x": {"field": "x", "type": "quantitative", "scale": {"domain": [0, 5], "nice": false, "zero": false},
          "axis": {"title": "Energy shift (keV)", "values": [0,0.2,0.4,0.6,0.8,1,1.2,1.4,1.6,1.8,2,2.2,2.4,2.6,2.8,3,3.2,3.4,3.6,3.8,4,4.2,4.4,4.6,4.8,5],
            "labelExpr": "abs(datum.value - round(datum.value)) < 0.001 ? format(datum.value, 'd') : ''",
            "tickSize": {"condition": {"test": "abs(datum.value - round(datum.value)) < 0.001", "value": 8}, "value": 4.5},
            "labelBaseline": "alphabetic", "labelPadding": 22, "titleY": 70, "titleBaseline": "alphabetic"}},
        "y": {"field": "y", "type": "quantitative", "scale": {"domain": [-0.019, 1.013], "nice": false, "zero": false},
          "axis": {"title": "Annihilation γ-ray spectra (arb. units)", "values": [0,0.04,0.08,0.12,0.16,0.2,0.24,0.28,0.32,0.36,0.4,0.44,0.48,0.52,0.56,0.6,0.64,0.68,0.72,0.76,0.8,0.84,0.88,0.92,0.96,1],
            "labelExpr": "abs(datum.value * 5 - round(datum.value * 5)) < 0.001 ? format(datum.value, '.1f') : ''",
            "tickSize": {"condition": {"test": "abs(datum.value * 5 - round(datum.value * 5)) < 0.001", "value": 7}, "value": 4},
            "labelPadding": 8, "titleX": -81, "titleY": 178, "titleBaseline": "alphabetic", "titleAlign": "center"}}
      },
      "layer": [
        {"data": {"name": "circles"}, "transform": [{"filter": "datum.panel === 'CCl4'"}],
          "mark": {"type": "point", "shape": "circle", "filled": false, "size": 60, "stroke": "#231f20", "strokeWidth": 1.1, "opacity": 1}},
        {"data": {"name": "lines"}, "transform": [{"filter": "datum.panel === 'CCl4'"}],
          "mark": {"type": "line", "interpolate": "monotone", "strokeCap": "butt"},
          "encoding": {
            "color": {"field": "curve", "type": "nominal", "legend": null, "scale": {"domain": ["black", "red", "green", "magenta", "blue"], "range": ["#231f20", "#ec1c24", "#00843d", "#b753b3", "#2f52a8"]}},
            "strokeDash": {"field": "curve", "type": "nominal", "legend": null, "scale": {"domain": ["black", "red", "green", "magenta", "blue"], "range": [[1, 0], [13.5, 15], [12, 8, 2.5, 9.8, 2.5, 9.6], [16, 8.7, 2.5, 8.3], [3, 10.3]]}},
            "strokeWidth": {"field": "curve", "type": "ordinal", "legend": null, "scale": {"domain": ["black", "red", "green", "magenta", "blue"], "range": [2.2, 2.3, 2.3, 2.3, 2.8]}}
          }},
        {"data": {"name": "labels"}, "transform": [{"filter": "datum.panel === 'CCl4'"}],
          "mark": {"type": "text", "align": "left", "baseline": "alphabetic", "font": "Liberation Sans", "fontSize": 24.5, "color": "#231f20"},
          "encoding": {"text": {"field": "text"}}}
      ]
    },
    {
      "width": 399,
      "height": 328,
      "encoding": {
        "x": {"field": "x", "type": "quantitative", "scale": {"domain": [0, 5], "nice": false, "zero": false},
          "axis": {"title": "Energy shift (keV)", "values": [0,0.2,0.4,0.6,0.8,1,1.2,1.4,1.6,1.8,2,2.2,2.4,2.6,2.8,3,3.2,3.4,3.6,3.8,4,4.2,4.4,4.6,4.8,5],
            "labelExpr": "abs(datum.value - round(datum.value)) < 0.001 ? format(datum.value, 'd') : ''",
            "tickSize": {"condition": {"test": "abs(datum.value - round(datum.value)) < 0.001", "value": 8}, "value": 4.5},
            "labelBaseline": "alphabetic", "labelPadding": 20, "titleY": 69, "titleBaseline": "alphabetic"}},
        "y": {"field": "y", "type": "quantitative", "scale": {"domain": [-0.018, 1.034], "nice": false, "zero": false},
          "axis": {"title": "Annihilation γ-ray spectra (arb. units)", "values": [0,0.04,0.08,0.12,0.16,0.2,0.24,0.28,0.32,0.36,0.4,0.44,0.48,0.52,0.56,0.6,0.64,0.68,0.72,0.76,0.8,0.84,0.88,0.92,0.96,1],
            "labelExpr": "abs(datum.value * 5 - round(datum.value * 5)) < 0.001 ? format(datum.value, '.1f') : ''",
            "tickSize": {"condition": {"test": "abs(datum.value * 5 - round(datum.value * 5)) < 0.001", "value": 7}, "value": 4},
            "labelPadding": 6, "titleX": -80, "titleY": 192, "titleBaseline": "alphabetic", "titleAlign": "center"}}
      },
      "layer": [
        {"data": {"name": "circles"}, "transform": [{"filter": "datum.panel === 'CBr4'"}],
          "mark": {"type": "point", "shape": "circle", "filled": false, "size": 66, "stroke": "#231f20", "strokeWidth": 1.1, "opacity": 1}},
        {"data": {"name": "lines"}, "transform": [{"filter": "datum.panel === 'CBr4'"}],
          "mark": {"type": "line", "interpolate": "monotone", "strokeCap": "butt"},
          "encoding": {
            "color": {"field": "curve", "type": "nominal", "legend": null, "scale": {"domain": ["black", "red", "green", "magenta", "blue"], "range": ["#231f20", "#ec1c24", "#00843d", "#b753b3", "#2f52a8"]}},
            "strokeDash": {"field": "curve", "type": "nominal", "legend": null, "scale": {"domain": ["black", "red", "green", "magenta", "blue"], "range": [[1, 0], [13.5, 15], [12, 8, 2.5, 9.8, 2.5, 9.6], [16, 8.7, 2.5, 8.3], [3, 10.3]]}},
            "strokeWidth": {"field": "curve", "type": "ordinal", "legend": null, "scale": {"domain": ["black", "red", "green", "magenta", "blue"], "range": [2.2, 2.3, 2.3, 2.3, 2.8]}}
          }},
        {"data": {"name": "labels"}, "transform": [{"filter": "datum.panel === 'CBr4'"}],
          "mark": {"type": "text", "align": "left", "baseline": "alphabetic", "font": "Liberation Sans", "fontSize": 24.5, "color": "#231f20"},
          "encoding": {"text": {"field": "text"}}}
      ]
    }
  ],
  "spacing": 112,
  "bounds": "flush",
  "center": true,
  "resolve": {"scale": {"x": "independent", "y": "independent", "color": "independent", "strokeDash": "independent", "strokeWidth": "independent"}}
}
